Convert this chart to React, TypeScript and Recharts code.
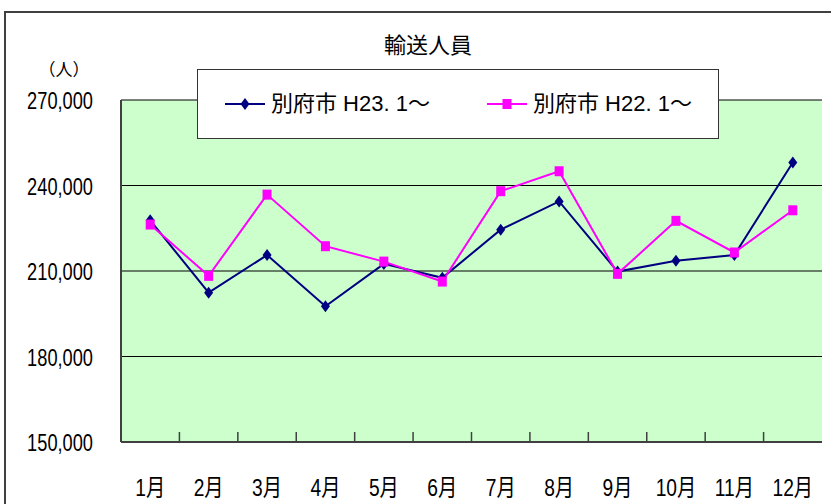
import React from 'react';
import {
  LineChart,
  Line,
  XAxis,
  YAxis,
  CartesianGrid,
  Legend
} from 'recharts';

const months = ['1月', '2月', '3月', '4月', '5月', '6月', '7月', '8月', '9月', '10月', '11月', '12月'];
const beppuH23 = [227800, 202400, 215600, 197600, 212500, 207600, 224500, 234400, 209800, 213600, 215600, 248100];
const beppuH22 = [226300, 208300, 236800, 218700, 213300, 206300, 238000, 245000, 209000, 227600, 216500, 231300];
const yTicks = [150000, 180000, 210000, 240000, 270000];
const seriesNames = ['別府市 H23. 1～', '別府市 H22. 1～'];
const chartTitle = '輸送人員';
const unitLabel = '（人）';

const data = months.map((month, i) => ({ month, h23: beppuH23[i], h22: beppuH22[i] }));

const W = 831;
const H = 504;
const PLOT_LEFT = 121;
const PLOT_RIGHT = 9;
const BAND = (W - PLOT_LEFT - PLOT_RIGHT) / months.length;
const NAVY = '#000080';
const PINK = '#FF00FF';
const FONT = "'Liberation Sans', 'Noto Sans CJK JP', sans-serif";
const CJK = "'Noto Sans CJK JP', sans-serif";

const Diamond = ({ cx, cy, fill }: any) => (
  <path d={`M${cx},${cy - 6}L${cx + 4.5},${cy}L${cx},${cy + 6}L${cx - 4.5},${cy}Z`} fill={fill} />
);

const Square = ({ cx, cy, fill }: any) => (
  <rect x={cx - 4.5} y={cy - 5} width={9} height={10} fill={fill} />
);

// category labels plus the short inward ticks between months
const XTick = ({ x, y, payload, index }: any) => (
  <g>
    {index < months.length - 1 && (
      <line x1={x + BAND / 2} x2={x + BAND / 2} y1={y} y2={y - 10} stroke="#404040" strokeWidth={1.5} />
    )}
    <text
      transform={`translate(${x},${y + 54}) scale(0.8,1)`}
      textAnchor="middle"
      fontFamily={FONT}
      fontSize={24}
      fill="#000"
    >
      {payload.value}
    </text>
  </g>
);

const YTick = ({ x, y, payload }: any) => (
  <text
    transform={`translate(${x},${y + 9}) scale(0.76,1)`}
    textAnchor="end"
    fontFamily={FONT}
    fontSize={24}
    fill="#000"
  >
    {payload.value.toLocaleString('en-US')}
  </text>
);

const legendItems = [
  { name: seriesNames[0], color: NAVY, Marker: Diamond, left: 27 },
  { name: seriesNames[1], color: PINK, Marker: Square, left: 289 }
];

const LegendBox = () => (
  <div
    style={{
      position: 'relative',
      width: 522,
      height: 70,
      boxSizing: 'border-box',
      background: '#fff',
      border: '1px solid #333'
    }}
  >
    {legendItems.map((item) => (
      <div
        key={item.name}
        style={{ position: 'absolute', left: item.left, top: 22, display: 'flex', alignItems: 'center' }}
      >
        <svg width={40} height={16}>
          <line x1={0} x2={40} y1={8} y2={8} stroke={item.color} strokeWidth={2} />
          <item.Marker cx={20} cy={8} fill={item.color} />
        </svg>
        <span style={{ marginLeft: 6, fontFamily: FONT, fontSize: 22, lineHeight: '24px', color: '#000' }}>
          {item.name}
        </span>
      </div>
    ))}
  </div>
);

export default function App() {
  return (
    <div style={{ position: 'absolute', left: 0, top: 0, width: W, height: H, overflow: 'hidden', background: '#fff' }}>
      <LineChart width={W} height={H} data={data} margin={{ top: 100, right: PLOT_RIGHT, bottom: 0, left: 0 }}>
        <CartesianGrid vertical={false} stroke="#000" fill="#CCFFCC" />
        <XAxis
          dataKey="month"
          height={62}
          interval={0}
          padding={{ left: BAND / 2, right: BAND / 2 }}
          axisLine={{ stroke: '#404040', strokeWidth: 2 }}
          tickLine={false}
          tickSize={0}
          tickMargin={0}
          tick={<XTick />}
        />
        <XAxis
          xAxisId="top"
          dataKey="month"
          orientation="top"
          height={0}
          axisLine={{ stroke: '#808080', strokeWidth: 2 }}
          tickLine={false}
          tick={false}
        />
        <YAxis
          type="number"
          width={PLOT_LEFT}
          domain={[150000, 270000]}
          ticks={yTicks}
          interval={0}
          axisLine={{ stroke: '#404040', strokeWidth: 2 }}
          tickLine={false}
          tickSize={0}
          tickMargin={28}
          tick={<YTick />}
        />
        <YAxis
          yAxisId="right"
          orientation="right"
          type="number"
          width={0}
          domain={[150000, 270000]}
          axisLine={{ stroke: '#808080', strokeWidth: 2 }}
          tickLine={false}
          tick={false}
        />
        <Legend
          layout="horizontal"
          verticalAlign="middle"
          align="center"
          wrapperStyle={{ left: 197, top: 69, width: 522, height: 70 }}
          content={() => <LegendBox />}
        />
        <Line
          type="linear"
          dataKey="h23"
          name={seriesNames[0]}
          stroke={NAVY}
          strokeWidth={2}
          dot={(p: any) => <Diamond key={`d${p.index}`} cx={p.cx} cy={p.cy} fill={NAVY} />}
          activeDot={false}
          isAnimationActive={false}
        />
        <Line
          type="linear"
          dataKey="h22"
          name={seriesNames[1]}
          stroke={PINK}
          strokeWidth={2}
          dot={(p: any) => <Square key={`s${p.index}`} cx={p.cx} cy={p.cy} fill={PINK} />}
          activeDot={false}
          isAnimationActive={false}
        />
      </LineChart>
      <div
        style={{
          position: 'absolute',
          left: 4,
          top: 11,
          width: 900,
          height: 600,
          border: '2px solid #404040',
          pointerEvents: 'none'
        }}
      />
      <svg width={W} height={H} style={{ position: 'absolute', left: 0, top: 0, pointerEvents: 'none' }}>
        <text x={428} y={53} textAnchor="middle" fontFamily={CJK} fontSize={22} fill="#000">
          {chartTitle}
        </text>
        <text x={64} y={76} textAnchor="middle" fontFamily={CJK} fontSize={17} fill="#000">
          {unitLabel}
        </text>
      </svg>
    </div>
  );
}
